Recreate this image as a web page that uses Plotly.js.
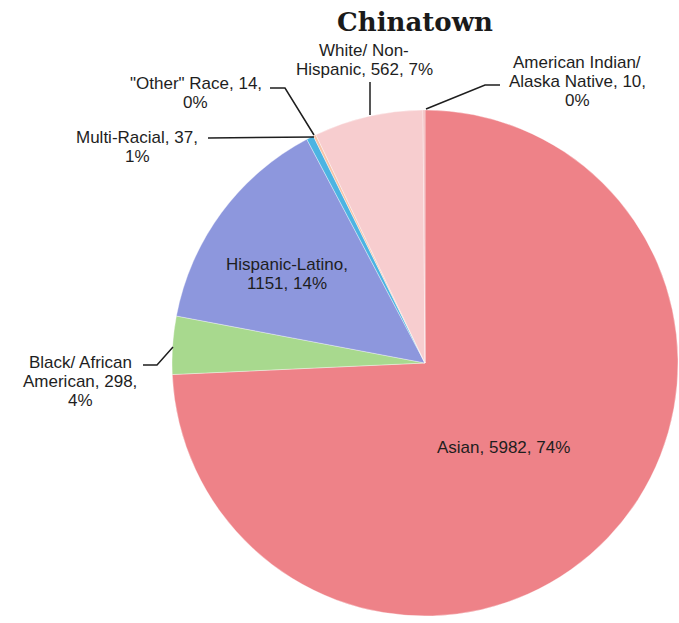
<!DOCTYPE html>
<html>
<head>
<meta charset="utf-8">
<script src="https://cdn.plot.ly/plotly-3.0.1.min.js"></script>
<style>html,body{margin:0;padding:0;background:#fff;}#chart{width:679px;height:623px;}</style>
</head>
<body>
<div id="chart"></div>
<script>
// ---- data ----
const categories = ["Asian", "Black/ African American", "Hispanic-Latino", "Multi-Racial", "\"Other\" Race", "White/ Non-Hispanic", "American Indian/ Alaska Native"];
const values = [5982, 298, 1151, 37, 14, 562, 10];
const sliceColors = ["#ee8288", "#a8d98e", "#8d97dd", "#4cb4e2", "#f6c3a8", "#f7cdcf", "#f3b9bc"];

// ---- layout helpers (pixel -> paper) ----
const W = 679, H = 623;
const px = x => x / W;
const py = y => 1 - y / H;

// label wrap widths (characters) and label centres (pixels)
const wrapChars = [30, 15, 16, 18, 18, 18, 18];
const labelPos = [[503, 447], [80, 381], [287, 274], [137, 147], [196, 93], [364, 60], [577, 81]];
const lineH = 19;
// leader lines (pixels), null when label sits inside slice
const leaders = [
  null,
  [[143, 365], [157, 365], [173, 347]],
  null,
  [[208, 138], [314, 137]],
  [[270, 88], [285, 88], [314, 135]],
  [[370, 82], [370, 115]],
  [[500, 85], [485, 85], [426, 109]]
];

// percentages with largest-remainder rounding (sum = 100)
const total = values.reduce((a, b) => a + b, 0);
const raw = values.map(v => v / total * 100);
const pct = raw.map(Math.floor);
let rem = 100 - pct.reduce((a, b) => a + b, 0);
raw.map((r, i) => [r - Math.floor(r), i]).sort((a, b) => b[0] - a[0]).slice(0, rem).forEach(([, i]) => pct[i] += 1);

function wrap(str, max) {
  const pieces = [];
  str.split(' ').forEach((w, i) => {
    const parts = w.split(/(?<=-)/);
    parts.forEach((p, j) => pieces.push({ sep: (j === 0 && i > 0) ? ' ' : '', text: p }));
  });
  const lines = []; let cur = '';
  pieces.forEach(p => {
    if (cur === '') cur = p.text;
    else if ((cur + p.sep + p.text).length <= max) cur += p.sep + p.text;
    else { lines.push(cur); cur = p.text; }
  });
  if (cur) lines.push(cur);
  return lines;
}

const labelFont = { family: "Liberation Sans, Arial, sans-serif", size: 17, color: "#1e1e1e" };
const annotations = [];
const shapes = [];
categories.forEach((c, i) => {
  const lines = wrap(`${c}, ${values[i]}, ${pct[i]}%`, wrapChars[i]);
  const [cx, cy] = labelPos[i];
  lines.forEach((ln, k) => {
    annotations.push({
      text: ln, x: px(cx), y: py(cy + (k - (lines.length - 1) / 2) * lineH),
      xref: 'paper', yref: 'paper', xanchor: 'center', yanchor: 'middle',
      showarrow: false, font: labelFont
    });
  });
  if (leaders[i]) {
    const d = leaders[i].map((p, k) => (k ? 'L' : 'M') + px(p[0]) + ',' + py(p[1])).join(' ');
    shapes.push({ type: 'path', xref: 'paper', yref: 'paper', path: d, line: { color: '#1e1e1e', width: 1.5 } });
  }
});

const trace = {
  type: 'pie',
  labels: categories,
  values: values,
  sort: false,
  direction: 'clockwise',
  rotation: 0,
  textinfo: 'none',
  hoverinfo: 'none',
  showlegend: false,
  marker: { colors: sliceColors, line: { color: 'rgba(255,255,255,0.6)', width: 0.6 } },
  domain: { x: [172 / W, 678 / W], y: [1 - 616 / H, 1 - 110 / H] }
};

const layout = {
  width: W, height: H,
  margin: { l: 0, r: 0, t: 0, b: 0 },
  paper_bgcolor: '#ffffff',
  title: {
    text: 'Chinatown', x: 415 / W, xanchor: 'center', y: 1 - 22 / H, yref: 'container', yanchor: 'middle',
    font: { family: 'DejaVu Serif', size: 26, weight: 'bold', color: '#1a1a1a' }
  },
  annotations: annotations,
  shapes: shapes
};

Plotly.newPlot('chart', [trace], layout, { displayModeBar: false, staticPlot: true });
</script>
</body>
</html>
